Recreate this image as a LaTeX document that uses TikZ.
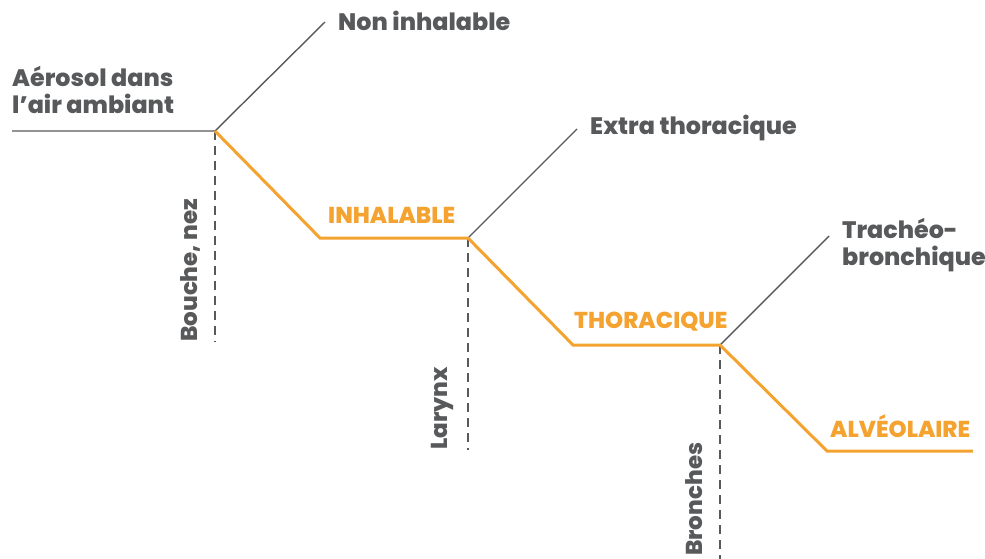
\documentclass[tikz,border=0pt]{standalone}
\usepackage{fontspec}
\setmainfont{Poppins}[BoldFont={Poppins ExtraBold}]
\definecolor{grayline}{HTML}{58595B}
\definecolor{orangeline}{HTML}{F4A330}
\begin{document}
\begin{tikzpicture}[x=1pt,y=-1pt,
  gline/.style={draw=grayline,line width=1.4pt},
  oline/.style={draw=orangeline,line width=3pt,line join=miter},
  dline/.style={draw=grayline,line width=1.4pt,dash pattern=on 9pt off 6pt},
  glabel/.style={text=grayline,font=\bfseries\fontsize{23.8}{27}\selectfont,inner sep=0pt},
  olabel/.style={text=orangeline,font=\bfseries\fontsize{23}{26}\selectfont,inner sep=0pt},
  vlabel/.style={text=grayline,font=\bfseries\fontsize{23}{26}\selectfont,inner sep=0pt,rotate=90}]
\useasboundingbox (0,0) rectangle (985,559);
% key points
\coordinate (s) at (12,131);
\coordinate (p1) at (215,131);
\coordinate (q1) at (320,238);
\coordinate (p2) at (468,238);
\coordinate (q2) at (573,345);
\coordinate (p3) at (720,345);
\coordinate (q3) at (827,451);
\coordinate (e) at (973,451);
\coordinate (u1) at (325,22);
\coordinate (u2) at (577,129);
\coordinate (u3) at (829,236);
\coordinate (d1) at (215,342);
\coordinate (d2) at (468,450);
\coordinate (d3) at (720,559);
% dashed
\draw[dline] (p1) -- (d1);
\draw[dline] (p2) -- (d2);
\draw[dline] (p3) -- (d3);
% gray
\draw[gline] (s) -- (p1) -- (u1);
\draw[gline] (p2) -- (u2);
\draw[gline] (p3) -- (u3);
% orange
\draw[oline] (p1) -- (q1) -- (p2) -- (q2) -- (p3) -- (q3) -- (e);
% labels
\node[glabel,anchor=west] (nonin) at (338,21) {Non inhalable};
\node[glabel,anchor=west,align=left] (aero) at (12,90) {Aérosol dans\\l’air ambiant};
\node[glabel,anchor=west] (extra) at (590,128) {Extra thoracique};
\node[glabel,anchor=west,align=left] (trach) at (842,245) {Trachéo-\\bronchique};
\node[olabel,anchor=west] (inh) at (328,215) {INHALABLE};
\node[olabel,anchor=west] (thor) at (574,322) {THORACIQUE};
\node[olabel,anchor=west] (alv) at (830,426) {ALVÉOLAIRE};
\node[vlabel,anchor=west] (bouche) at (190,342) {Bouche, nez};
\node[vlabel,anchor=west] (lar) at (442,450) {Larynx};
\node[vlabel,anchor=west] (bron) at (694,556) {Bronches};
\end{tikzpicture}
\end{document}
